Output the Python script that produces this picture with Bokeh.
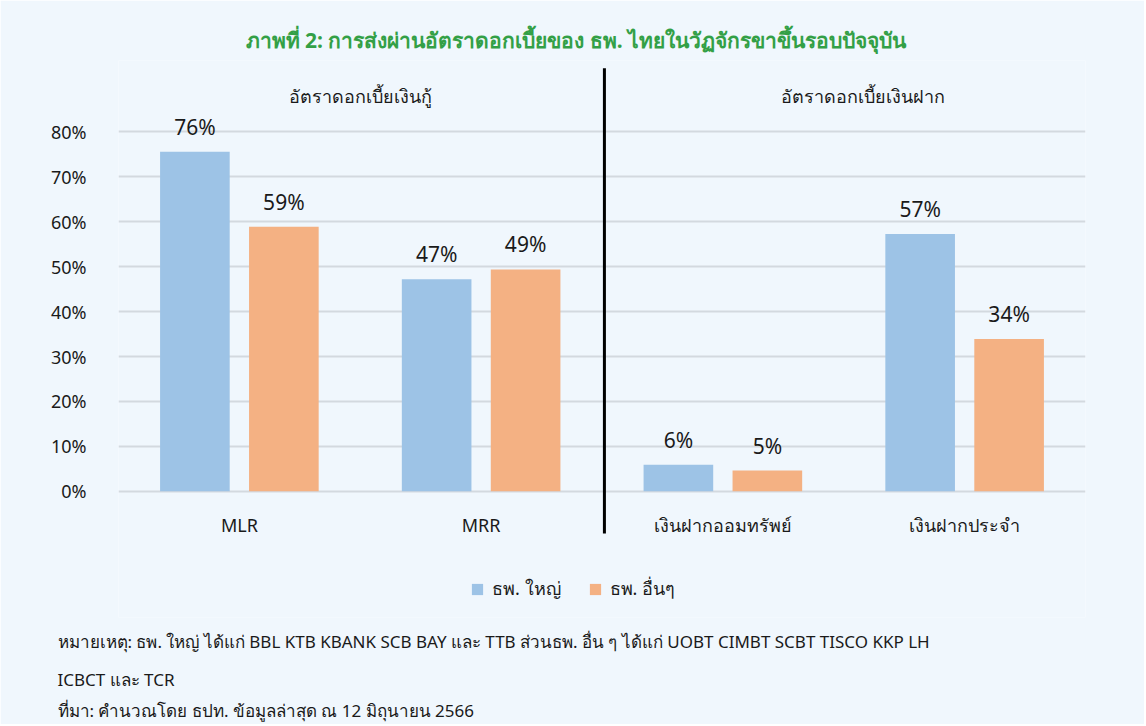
from bokeh.plotting import figure
from bokeh.models import (ColumnDataSource, FixedTicker, NumeralTickFormatter, Label,
                          Legend, LegendItem, FactorRange, Title)
from bokeh.transform import dodge
from bokeh.core.properties import value
from bokeh.embed import file_html
from bokeh.resources import INLINE

# ---- data ----
categories = ["MLR", "MRR", "เงินฝากออมทรัพย์", "เงินฝากประจำ"]
big_banks = [0.756, 0.472, 0.059, 0.573]
other_banks = [0.589, 0.494, 0.046, 0.339]
series_names = ["ธพ. ใหญ่", "ธพ. อื่นๆ"]
y_ticks = [0, 0.1, 0.2, 0.3, 0.4, 0.5, 0.6, 0.7, 0.8]
group_titles = ["อัตราดอกเบี้ยเงินกู้", "อัตราดอกเบี้ยเงินฝาก"]
title_text = "ภาพที่ 2: การส่งผ่านอัตราดอกเบี้ยของ ธพ. ไทยในวัฏจักรขาขึ้นรอบปัจจุบัน"
notes = [
    "หมายเหตุ: ธพ. ใหญ่ ได้แก่ BBL KTB KBANK SCB BAY และ TTB ส่วนธพ. อื่น ๆ ได้แก่ UOBT CIMBT SCBT TISCO KKP LH",
    "ICBCT และ TCR",
    "ที่มา: คำนวณโดย ธปท. ข้อมูลล่าสุด ณ 12 มิถุนายน 2566",
]

BG = "#F0F7FD"
BLUE = "#9DC3E6"
ORANGE = "#F4B183"
FONT = "Noto Sans"
TXT = "#1a1a1a"

Y_START, Y_END = -0.281, 0.959

src = ColumnDataSource(dict(
    cat=categories,
    big=big_banks,
    other=other_banks,
    big_lbl=[f"{round(v*100)}%" for v in big_banks],
    other_lbl=[f"{round(v*100)}%" for v in other_banks],
    lab_y=[-0.074] * len(categories),
))

p = figure(width=1144, height=724, x_range=FactorRange(*categories, range_padding=0),
           y_range=(Y_START, Y_END), output_backend="svg", toolbar_location=None,
           min_border_left=118, min_border_right=59, min_border_top=60, min_border_bottom=106,
           background_fill_color=BG, border_fill_color=BG, outline_line_color=None)

# title
p.title.text = title_text
p.title.align = "left"
p.title.offset = 127
p.title.standoff = 14
p.title.text_font = FONT
p.title.text_font_size = "21px"
p.title.text_font_style = "bold"
p.title.text_color = "#33A046"

r_big = p.vbar(x=dodge("cat", -0.184, range=p.x_range), top="big", width=0.288,
               source=src, fill_color=BLUE, line_color=None)
r_oth = p.vbar(x=dodge("cat", 0.184, range=p.x_range), top="other", width=0.288,
               source=src, fill_color=ORANGE, line_color=None)

p.text(x=dodge("cat", -0.184, range=p.x_range), y="big", text="big_lbl", source=src,
       text_align="center", text_baseline="middle", y_offset=-25,
       text_font=value(FONT), text_font_size="21px", text_color=TXT)
p.text(x=dodge("cat", 0.184, range=p.x_range), y="other", text="other_lbl", source=src,
       text_align="center", text_baseline="middle", y_offset=-25,
       text_font=value(FONT), text_font_size="21px", text_color=TXT)

# category labels under the bars
p.text(x="cat", y="lab_y", text="cat", source=src, text_align="center",
       text_baseline="middle", text_font=value(FONT), text_font_size="18px",
       text_color=TXT)

# divider between loan and deposit groups
div_src = ColumnDataSource(dict(x=[categories[1]], y0=[-0.094], y1=[0.942]))
p.segment(x0=dodge("x", 0.51, range=p.x_range), x1=dodge("x", 0.51, range=p.x_range),
          y0="y0", y1="y1", source=div_src, line_color="black", line_width=3)

# axes
p.yaxis.ticker = FixedTicker(ticks=y_ticks)
p.yaxis.formatter = NumeralTickFormatter(format="0%")
p.yaxis.axis_line_color = None
p.yaxis.major_tick_line_color = None
p.yaxis.minor_tick_line_color = None
p.yaxis.major_label_standoff = 26
p.yaxis.major_label_text_font = FONT
p.yaxis.major_label_text_font_size = "18px"
p.yaxis.major_label_text_color = TXT
p.xaxis.visible = False

p.xgrid.grid_line_color = None
p.ygrid.grid_line_color = "#D3D9DF"
p.ygrid.grid_line_width = 2

# group headers (screen x relative to frame left)
for xs, t in zip([242, 744], group_titles):
    p.add_layout(Label(x=xs, y=0.88, x_units="screen", y_units="data", text=t,
                       text_align="center", text_baseline="middle",
                       text_font=FONT, text_font_size="18px", text_color=TXT))

legend = Legend(items=[LegendItem(label=series_names[0], renderers=[r_big]),
                       LegendItem(label=series_names[1], renderers=[r_oth])],
                location=(352, 14), orientation="horizontal",
                background_fill_alpha=0, border_line_color=None,
                label_text_font=FONT, label_text_font_size="18px", label_text_color=TXT,
                glyph_width=14, glyph_height=14, spacing=27, label_standoff=8,
                padding=0, margin=0)
p.add_layout(legend)

# notes
for t, s in zip(notes, [21, 5, 6]):
    p.add_layout(Title(text=t, align="left", offset=-61, standoff=s,
                       text_font=FONT, text_font_size="17px", text_font_style="normal",
                       text_color=TXT), "below")

html = file_html(p, INLINE)
html = html.replace("<body>", f'<body style="background:{BG};">', 1)
open("out.html", "w").write(html)
